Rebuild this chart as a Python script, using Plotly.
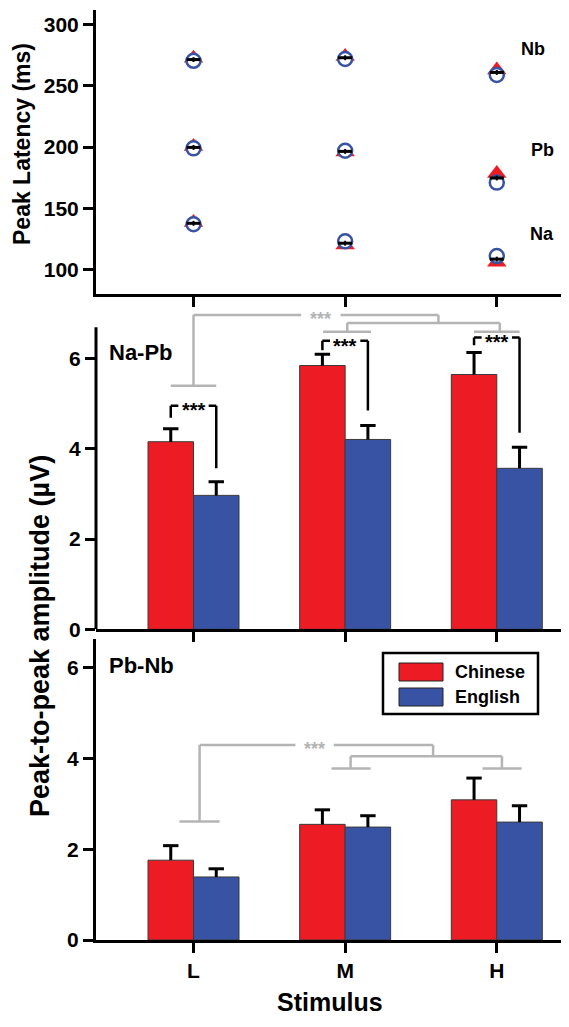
import plotly.graph_objects as go

# ---------------- data ----------------
categories = ["L", "M", "H"]
xpos = [0, 1, 2]

# Peak latency (ms)
lat_chinese_na = [138.5, 120.0, 106.0]
lat_english_na = [137.0, 123.0, 111.0]
lat_chinese_pb = [200.5, 196.0, 178.5]
lat_english_pb = [199.0, 197.0, 171.0]
lat_chinese_nb = [272.5, 274.0, 263.0]
lat_english_nb = [270.5, 272.0, 259.0]
lat_se = [2.0, 2.0, 2.0]

# Na-Pb peak-to-peak amplitude (uV)
napb_chinese = [4.16, 5.85, 5.65]
napb_chinese_se = [0.29, 0.25, 0.49]
napb_english = [2.97, 4.21, 3.57]
napb_english_se = [0.30, 0.31, 0.47]

# Pb-Nb peak-to-peak amplitude (uV)
pbnb_chinese = [1.76, 2.55, 3.09]
pbnb_chinese_se = [0.32, 0.32, 0.48]
pbnb_english = [1.39, 2.49, 2.60]
pbnb_english_se = [0.18, 0.25, 0.36]

RED = "#ed1c24"
BLUE = "#3953a4"
GRAY = "#b4b4b4"
FONT = "Liberation Sans, Arial, sans-serif"

# the page body has an 8px margin, so the figure is 8px smaller and shifted
BODY = 8
W, H = 569 - BODY, 1027 - BODY
ML, MR, MT, MB = 96 - BODY, 7, 10 - BODY, 87
PW, PH = W - ML - MR, H - MT - MB

BAR_HALF = 0.15  # half the group width: bar centres sit at x -/+ 0.15


def px_x(px):
    return (px - BODY - ML) / PW


def px_y(py):
    return (H - MB - (py - BODY)) / PH


fig = go.Figure()

# ---------------- top panel: latencies ----------------
for ch, en in [(lat_chinese_na, lat_english_na), (lat_chinese_pb, lat_english_pb), (lat_chinese_nb, lat_english_nb)]:
    fig.add_trace(go.Scatter(x=xpos, y=ch, mode="markers", showlegend=False,
                             marker=dict(symbol="triangle-up", size=17, color=RED,
                                         line=dict(width=0)),
                             xaxis="x", yaxis="y"))
    fig.add_trace(go.Scatter(x=xpos, y=en, mode="markers", showlegend=False,
                             marker=dict(symbol="circle", size=14, color="white",
                                         line=dict(width=2.5, color=BLUE)),
                             xaxis="x", yaxis="y"))
    fig.add_trace(go.Scatter(x=xpos, y=[(a + b) / 2 for a, b in zip(ch, en)], mode="markers",
                             showlegend=False,
                             marker=dict(symbol="line-ew-open", size=10, color="black",
                                         line=dict(width=3, color="black")),
                             error_y=dict(type="data", array=lat_se, color="black",
                                          thickness=2, width=0),
                             xaxis="x", yaxis="y"))

# ---------------- bar panels ----------------
def add_bars(ch, ch_se, en, en_se, xa, ya):
    for name, vals, se, col, grp, dx in [("Chinese", ch, ch_se, RED, "c", -BAR_HALF),
                                          ("English", en, en_se, BLUE, "e", BAR_HALF)]:
        fig.add_trace(go.Bar(x=xpos, y=vals, name=name,
                             marker=dict(color=col, line=dict(color="#3a3a3a", width=1)),
                             error_y=dict(type="data", symmetric=False, array=se,
                                          arrayminus=[0] * len(se),
                                          color="black", thickness=3, width=0),
                             offsetgroup=grp, showlegend=False, xaxis=xa, yaxis=ya))
        # caps only at the top of the one-sided error bars
        fig.add_trace(go.Scatter(x=[x + dx for x in xpos], y=[v + s for v, s in zip(vals, se)],
                                 mode="markers", showlegend=False, hoverinfo="skip",
                                 marker=dict(symbol="line-ew", size=11, color="black",
                                             line=dict(width=3, color="black")),
                                 xaxis=xa, yaxis=ya))


add_bars(napb_chinese, napb_chinese_se, napb_english, napb_english_se, "x2", "y2")
add_bars(pbnb_chinese, pbnb_chinese_se, pbnb_english, pbnb_english_se, "x3", "y3")

shapes = []
annotations = []


def seg(xr, yr, x0, y0, x1, y1, color, width=2.5):
    shapes.append(dict(type="line", xref=xr, yref=yr, x0=x0, y0=y0, x1=x1, y1=y1,
                       line=dict(color=color, width=width), layer="above"))


def stars(xr, yr, x, y, color, size):
    annotations.append(dict(xref=xr, yref=yr, x=x, y=y, text="***", showarrow=False,
                            xanchor="center", yanchor="middle",
                            font=dict(family=FONT, size=size, color=color, weight="bold"),
                            yshift=-0.24 * size))


# middle panel gray brackets (the top line has a gap for the stars)
g2 = [(0, 5.40, 0, 6.97), (-0.15, 5.40, 0.15, 5.40), (0, 6.97, 0.71, 6.97),
      (0.97, 6.97, 1.615, 6.97),
      (1.615, 6.97, 1.615, 6.79), (1.014, 6.79, 2.02, 6.79),
      (1.014, 6.79, 1.014, 6.60), (0.855, 6.60, 1.17, 6.60),
      (2.02, 6.79, 2.02, 6.60), (1.85, 6.60, 2.15, 6.60)]
for s in g2:
    seg("x2", "y2", *s, GRAY)
stars("x2", "y2", 0.84, 6.97, GRAY, 18)

# middle panel black brackets (left leg bottom, top, right leg bottom)
b2 = [(4.69, 4.96, 3.57), (6.19, 6.40, 4.85), (6.30, 6.47, 4.36)]
GAP = 0.10
for i, (yl, yt, yr_) in enumerate(b2):
    seg("x2", "y2", i - BAR_HALF, yl, i - BAR_HALF, yt, "black")
    seg("x2", "y2", i - BAR_HALF, yt, i - GAP, yt, "black")
    seg("x2", "y2", i + GAP, yt, i + BAR_HALF, yt, "black")
    seg("x2", "y2", i + BAR_HALF, yt, i + BAR_HALF, yr_, "black")
    stars("x2", "y2", i, yt, "black", 20)

# bottom panel gray brackets
g3 = [(0.04, 2.61, 0.04, 4.30), (-0.093, 2.61, 0.172, 2.61), (0.04, 4.30, 0.672, 4.30),
      (0.925, 4.30, 1.58, 4.30),
      (1.58, 4.30, 1.58, 4.05), (1.036, 4.05, 2.034, 4.05),
      (1.036, 4.05, 1.036, 3.78), (0.91, 3.78, 1.168, 3.78),
      (2.034, 4.05, 2.034, 3.78), (1.906, 3.78, 2.164, 3.78)]
for s in g3:
    seg("x3", "y3", *s, GRAY)
stars("x3", "y3", 0.80, 4.30, GRAY, 18)

# middle panel y-axis line (axis stops at 6.7 while brackets extend above)
shapes.append(dict(type="line", xref="x2 domain", yref="y2", x0=0, x1=0, y0=0, y1=6.7,
                   line=dict(color="black", width=3)))

# panel labels
for txt, x, y in [("Nb", 2.24, 280.5), ("Pb", 2.30, 197.5), ("Na", 2.30, 129.0)]:
    annotations.append(dict(xref="x", yref="y", x=x, y=y, text=txt, showarrow=False,
                            xanchor="center", yanchor="middle",
                            font=dict(family=FONT, size=18, color="black", weight="bold")))


def label(text, px, py, size, xanchor="center", angle=0):
    annotations.append(dict(xref="paper", yref="paper", x=px_x(px), y=px_y(py), text=text,
                            xanchor=xanchor, yanchor="middle", textangle=angle, showarrow=False,
                            font=dict(family=FONT, size=size, color="black", weight="bold")))


label("Na-Pb", 107, 352, 22, xanchor="left")
label("Pb-Nb", 107, 665, 22, xanchor="left")

# axis titles
label("Peak Latency (ms)", 22, 144, 23, angle=-90)
label("Peak-to-peak amplitude (µV)", 40, 636, 27, angle=-90)
label("Stimulus", 330, 1002, 25)

# legend (manual, large swatches)
shapes.append(dict(type="rect", xref="paper", yref="paper", x0=px_x(383), x1=px_x(538),
                   y0=px_y(714), y1=px_y(653), line=dict(color="black", width=2.5),
                   fillcolor="white", layer="above"))
for name, col, cy in [("Chinese", RED, 672), ("English", BLUE, 697)]:
    shapes.append(dict(type="rect", xref="paper", yref="paper", x0=px_x(399), x1=px_x(443),
                       y0=px_y(cy + 9), y1=px_y(cy - 9), line=dict(color="#222", width=1),
                       fillcolor=col, layer="above"))
    label(name, 453, cy, 18, xanchor="left")

tickfont = dict(family=FONT, size=21, color="black", weight="bold")
xr = [-0.643, 2.43]
common_x = dict(range=xr, tickvals=xpos, showline=True, linewidth=3, linecolor="black",
                ticks="outside", ticklen=10, tickwidth=3, tickcolor="black", showgrid=False,
                zeroline=False, tickfont=tickfont)
common_y = dict(showline=True, linewidth=3, linecolor="black", ticks="outside", ticklen=10,
                tickwidth=3, tickcolor="black", showgrid=False, zeroline=False, tickfont=tickfont)

fig.update_layout(
    width=W, height=H, margin=dict(l=ML, r=MR, t=MT, b=MB, autoexpand=False),
    plot_bgcolor="white", paper_bgcolor="white",
    barmode="group", bargap=0.4, bargroupgap=0,
    font=dict(family=FONT, color="black"),
    xaxis=dict(common_x, domain=[0, 1], anchor="y", showticklabels=False),
    yaxis=dict(common_y, domain=[px_y(294), px_y(10)], anchor="x", range=[80, 312],
               tickvals=[100, 150, 200, 250, 300]),
    xaxis2=dict(common_x, domain=[0, 1], anchor="y2", showticklabels=False),
    yaxis2=dict(common_y, domain=[px_y(629.3), px_y(311.4)], anchor="x2", range=[0, 7.05],
                tickvals=[0, 2, 4, 6], showline=False),
    xaxis3=dict(common_x, domain=[0, 1], anchor="y3", ticktext=categories),
    yaxis3=dict(common_y, domain=[0, px_y(639.3)], anchor="x3", range=[0, 6.63],
                tickvals=[0, 2, 4, 6]),
    shapes=shapes, annotations=annotations,
)

fig.write_html("out.html")
